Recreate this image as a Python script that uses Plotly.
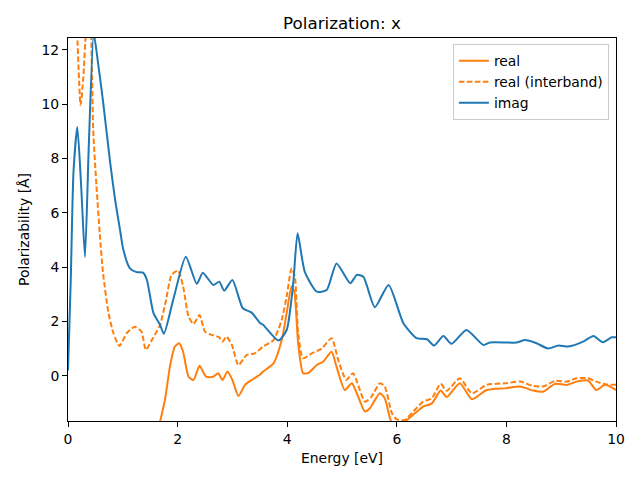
import plotly.graph_objects as go

# imag
x_imag = [0.0, 0.05, 0.1, 0.17, 0.24, 0.31, 0.38, 0.47, 0.55, 0.64, 0.77, 0.86, 0.95, 1.01, 1.13, 1.25, 1.37, 1.44, 1.56, 1.68, 1.75, 1.92, 2.15, 2.35, 2.46, 2.65, 2.76, 2.85, 3.0, 3.19, 3.35, 3.5, 3.56, 3.84, 3.99, 4.11, 4.19, 4.32, 4.54, 4.72, 4.9, 5.15, 5.27, 5.39, 5.6, 5.85, 6.12, 6.36, 6.55, 6.68, 6.85, 7.0, 7.27, 7.58, 7.7, 8.19, 8.34, 8.55, 8.76, 8.95, 9.13, 9.4, 9.59, 9.76, 9.92, 10.0]
y_imag = [0.2, 3.5, 7.5, 9.16, 7.0, 4.38, 8.5, 12.6, 11.5, 10.1, 7.84, 6.48, 5.37, 4.64, 3.96, 3.82, 3.80, 3.53, 2.31, 1.88, 1.55, 2.80, 4.39, 3.39, 3.80, 3.35, 3.47, 3.14, 3.53, 2.49, 2.33, 1.96, 1.88, 1.30, 1.69, 3.41, 5.25, 3.84, 3.10, 3.16, 4.14, 3.41, 3.72, 3.65, 2.53, 3.35, 1.94, 1.39, 1.35, 1.12, 1.47, 1.18, 1.69, 1.14, 1.23, 1.23, 1.32, 1.20, 1.01, 1.12, 1.08, 1.26, 1.47, 1.24, 1.42, 1.42]

# real (interband)
x_inter = [0.05, 0.12, 0.17, 0.23, 0.28, 0.33, 0.4, 0.46, 0.52, 0.58, 0.64, 0.74, 0.83, 0.94, 1.07, 1.22, 1.34, 1.42, 1.53, 1.68, 1.79, 1.89, 2.01, 2.1, 2.2, 2.29, 2.4, 2.5, 2.62, 2.76, 2.82, 2.89, 2.99, 3.11, 3.26, 3.41, 3.56, 3.75, 3.9, 3.99, 4.08, 4.14, 4.2, 4.29, 4.45, 4.63, 4.81, 4.93, 5.08, 5.2, 5.42, 5.54, 5.69, 5.78, 5.91, 6.0, 6.15, 6.3, 6.48, 6.64, 6.8, 6.91, 7.15, 7.37, 7.64, 8.0, 8.25, 8.49, 8.67, 8.89, 9.1, 9.28, 9.49, 9.64, 9.8, 10.0]
y_inter = [20.0, 15.0, 12.5, 9.97, 11.0, 12.7, 13.6, 9.05, 6.97, 5.25, 3.78, 2.31, 1.57, 1.10, 1.57, 1.81, 1.63, 0.96, 1.32, 1.88, 2.80, 3.72, 3.88, 3.30, 2.19, 1.91, 2.24, 1.63, 1.51, 1.42, 1.26, 1.45, 1.14, 0.40, 0.77, 0.83, 1.08, 1.32, 2.06, 2.92, 3.96, 3.65, 1.57, 0.65, 0.83, 1.01, 1.39, 0.59, -0.15, 0.10, -0.95, -0.76, -0.27, -0.39, -1.37, -1.60, -1.62, -1.31, -0.95, -0.82, -0.29, -0.55, -0.09, -0.64, -0.33, -0.27, -0.21, -0.37, -0.39, -0.18, -0.21, -0.09, -0.09, -0.21, -0.31, -0.33]

# real
x_real = [0.1, 0.5, 1.0, 1.4, 1.6, 1.68, 1.77, 1.86, 1.95, 2.03, 2.1, 2.2, 2.29, 2.4, 2.52, 2.65, 2.74, 2.82, 2.91, 3.0, 3.11, 3.23, 3.35, 3.5, 3.56, 3.75, 3.9, 3.99, 4.08, 4.13, 4.2, 4.29, 4.38, 4.54, 4.66, 4.81, 4.9, 5.05, 5.18, 5.27, 5.42, 5.51, 5.69, 5.78, 5.9, 6.02, 6.15, 6.3, 6.48, 6.64, 6.8, 6.91, 7.15, 7.37, 7.64, 8.0, 8.25, 8.49, 8.67, 8.89, 9.1, 9.28, 9.49, 9.64, 9.8, 10.0]
y_real = [-60.0, -25.0, -10.0, -4.5, -2.4, -1.68, -0.88, 0.34, 1.08, 1.20, 0.89, -0.03, -0.15, 0.37, -0.03, -0.03, 0.10, -0.15, 0.16, -0.15, -0.74, -0.33, -0.15, 0.04, 0.16, 0.46, 1.32, 2.31, 3.29, 3.10, 1.20, 0.10, 0.10, 0.40, 0.53, 0.89, 0.34, -0.52, -0.27, -0.64, -1.31, -1.19, -0.64, -0.82, -1.68, -1.85, -1.68, -1.43, -1.13, -1.01, -0.54, -0.78, -0.27, -0.86, -0.52, -0.45, -0.39, -0.54, -0.58, -0.29, -0.33, -0.21, -0.17, -0.52, -0.33, -0.52]

ORANGE = "#ff7f0e"
BLUE = "#1f77b4"

fig = go.Figure()
fig.add_trace(go.Scatter(x=x_real, y=y_real, mode="lines", name="real",
                         line=dict(color=ORANGE, width=2, shape="spline", smoothing=0.6)))
fig.add_trace(go.Scatter(x=x_inter, y=y_inter, mode="lines", name="real (interband)",
                         line=dict(color=ORANGE, width=2, dash="5.5px,2.5px", shape="spline", smoothing=0.6)))
fig.add_trace(go.Scatter(x=x_imag, y=y_imag, mode="lines", name="imag",
                         line=dict(color=BLUE, width=2, shape="spline", smoothing=0.6)))

axis_common = dict(showgrid=False, zeroline=False, showline=True, linecolor="black",
                   linewidth=1, mirror=True, ticks="outside", ticklen=5, tickwidth=1,
                   tickcolor="black", tickfont=dict(size=13.9, color="black"), automargin=False)

fig.update_layout(
    width=640, height=480,
    paper_bgcolor="white", plot_bgcolor="white",
    font=dict(family="DejaVu Sans", color="black"),
    margin=dict(l=60, r=32, t=30, b=67, autoexpand=False),
    title=dict(text="Polarization: x", x=0.5, xanchor="center", y=0.969, yanchor="middle",
               xref="paper", font=dict(size=16.7, color="black")),
    xaxis=dict(range=[0, 10], tickvals=[0, 2, 4, 6, 8, 10],
               title=dict(text="Energy [eV]", font=dict(size=13.9), standoff=7), **axis_common),
    yaxis=dict(range=[-1.66, 12.44], tickvals=[0, 2, 4, 6, 8, 10, 12],
               title=dict(text="Polarizability [Å]", font=dict(size=13.9), standoff=8), **axis_common),
    legend=dict(x=0.987, y=0.984, xanchor="right", yanchor="top",
                bgcolor="rgba(255,255,255,0.8)", bordercolor="#cccccc", borderwidth=1,
                font=dict(size=13.9), tracegroupgap=0, itemwidth=30),
    showlegend=True,
)

fig.write_html("out.html")
